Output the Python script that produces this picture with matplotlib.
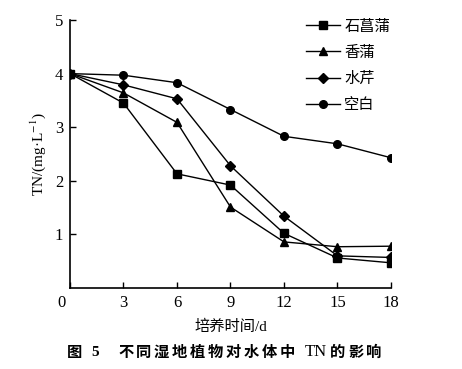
import matplotlib
matplotlib.use('Agg')
import matplotlib.pyplot as plt
import matplotlib.transforms as mtransforms

plt.rcParams['font.family'] = ['Liberation Serif', 'Noto Sans CJK SC']
plt.rcParams['mathtext.fontset'] = 'stix'

# datos
dias = [0, 3, 6, 9, 12, 15, 18]
shichangpu = [4.0, 3.45, 2.13, 1.92, 1.02, 0.56, 0.47]
xiangpu = [4.0, 3.64, 3.09, 1.51, 0.86, 0.77, 0.78]
shuiqin = [4.0, 3.79, 3.53, 2.28, 1.34, 0.60, 0.57]
kongbai = [4.0, 3.97, 3.83, 3.33, 2.83, 2.69, 2.43]
nombres = ['石菖蒲', '香蒲', '水芹', '空白']
marcadores = ['s', '^', 'D', 'o']

fig = plt.figure(figsize=(4.62, 3.69), dpi=100)
ax = fig.add_axes([0.1515, 0.2195, 0.6948, 0.7263])

series = [shichangpu, xiangpu, shuiqin, kongbai]
for ys, nom, mk in zip(series, nombres, marcadores):
    ms = 5.0 if mk == 'D' else 5.5
    ax.plot(dias, ys, color='black', lw=1.0, marker=mk, ms=ms, label=nom)

ax.set_xlim(0, 18)
ax.set_ylim(0, 5)
ax.set_xticks(dias)
ax.set_yticks([1, 2, 3, 4, 5])
ax.spines['top'].set_visible(False)
ax.spines['right'].set_visible(False)
ax.spines['left'].set_linewidth(1.2)
ax.spines['bottom'].set_linewidth(1.2)
ax.tick_params(direction='in', length=4, width=1.0, labelsize=12, pad=5)

# el "0" del origen va un poco a la izquierda
lbl0 = ax.get_xticklabels()[0]
lbl0.set_transform(lbl0.get_transform() +
                   mtransforms.ScaledTranslation(-8 / 100, 0, fig.dpi_scale_trans))

ax.set_ylabel('TN/(mg·L$^{-1}$)', fontsize=11, labelpad=5)
ax.set_xlabel('培养时间/d', fontsize=11, labelpad=6)

ax.legend(loc='upper right', bbox_to_anchor=(1.04, 1.06), frameon=False,
          prop={'family': ['Noto Sans CJK SC'], 'size': 11},
          handlelength=2.2, labelspacing=0.6, handletextpad=0.3)

# pie de figura, caracter por caracter para imitar el espaciado
W, H = 462, 369
y_cap = 1 - 352 / H
piezas = [('图', 67), ('5', 91)]
for i, ch in enumerate('不同湿地植物对水体中'):
    piezas.append((ch, 118 + 18 * i))
for i, ch in enumerate('的影响'):
    piezas.append((ch, 330 + 18 * i))
for ch, px in piezas:
    fam = ['Liberation Serif'] if ch == '5' else ['Noto Sans CJK SC']
    fig.text(px / W, y_cap, ch, ha='left', va='center', fontsize=11,
             fontweight='bold', family=fam)
fig.text(305 / W, y_cap, 'TN', ha='left', va='center', fontsize=12,
         family=['Liberation Serif'])

fig.savefig('out.png', dpi=100)
